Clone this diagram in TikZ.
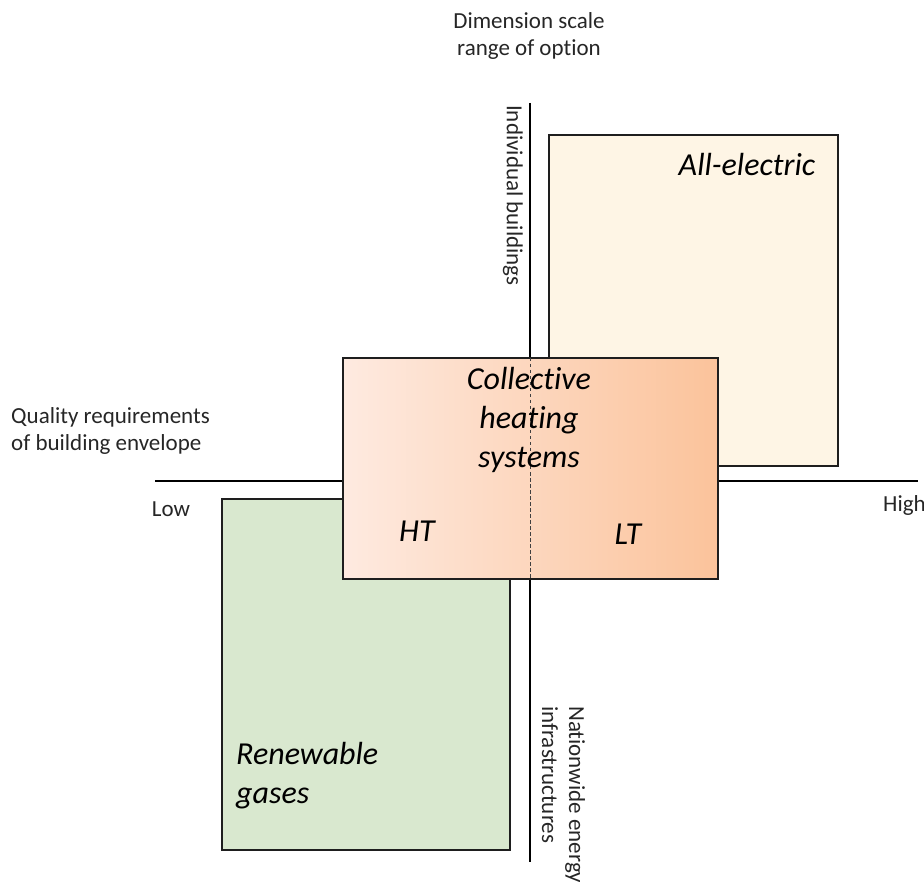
\documentclass[tikz,border=0pt]{standalone}
\usepackage{fontspec}
\setmainfont[Ligatures=NoCommon]{Carlito}
\definecolor{elecfill}{HTML}{FEF5E5}
\definecolor{gasfill}{HTML}{D9E8CF}
\definecolor{heatlight}{HTML}{FEEAE0}
\definecolor{heatdark}{HTML}{FBC39B}
\definecolor{edge}{HTML}{1E1E1E}
\begin{document}
\begin{tikzpicture}[x=1pt,y=-1pt,
  axisline/.style={line width=1.2pt,draw=black},
  optionbox/.style={draw=edge,line width=2pt,rectangle,inner sep=0pt},
  axislabel/.style={font=\fontsize{23}{27}\selectfont,inner sep=0pt,text=black!85},
  optionlabel/.style={font=\fontsize{32}{39}\selectfont\itshape,inner sep=0pt,text=black},
  divider/.style={draw=black!75,line width=1pt,dash pattern=on 3.5pt off 2.5pt}]
\useasboundingbox (0,0) rectangle (924,882);

% axes
\coordinate (xl) at (155,481);
\coordinate (xr) at (918,481);
\coordinate (yt) at (530,103);
\coordinate (yb) at (530,862);
\draw[axisline] (xl) -- (xr);
\draw[axisline] (yt) -- (yb);

% option regions
\node[optionbox,fill=elecfill,minimum width=289pt,minimum height=331pt] (elec) at (693.5,300.5) {};
\node[optionbox,fill=gasfill,minimum width=288pt,minimum height=351pt] (gas) at (366,674.5) {};
\node[optionbox,left color=heatlight,right color=heatdark,minimum width=375pt,minimum height=221pt] (heat) at (530.5,468.5) {};
\coordinate (dtop) at (530,358);
\coordinate (dbot) at (530,579);
\draw[divider] (dtop) -- (dbot);

% region labels
\node[optionlabel] (elecT) at (747,165) {All-electric};
\node[optionlabel,align=center] (heatT) at (529,420) {Collective\\heating\\systems};
\node[optionlabel] (ht) at (417,531) {HT};
\node[optionlabel] (lt) at (628,534) {LT};
\node[optionlabel,align=left,anchor=west] (gasT) at (236,776) {Renewable\\gases};

% axis labels
\node[axislabel,align=center] (dim) at (529,36) {Dimension scale\\range of option};
\node[axislabel,align=left,anchor=west] (qual) at (11,431) {Quality requirements\\of building envelope};
\node[axislabel] (low) at (171,509) {Low};
\node[axislabel,anchor=west] (high) at (883,505) {High};
\node[axislabel,rotate=-90,anchor=west] (indiv) at (513,105) {Individual buildings};
\node[axislabel,rotate=-90,anchor=west,align=left] (nation) at (563.5,706) {Nationwide energy\\infrastructures};
\end{tikzpicture}
\end{document}
